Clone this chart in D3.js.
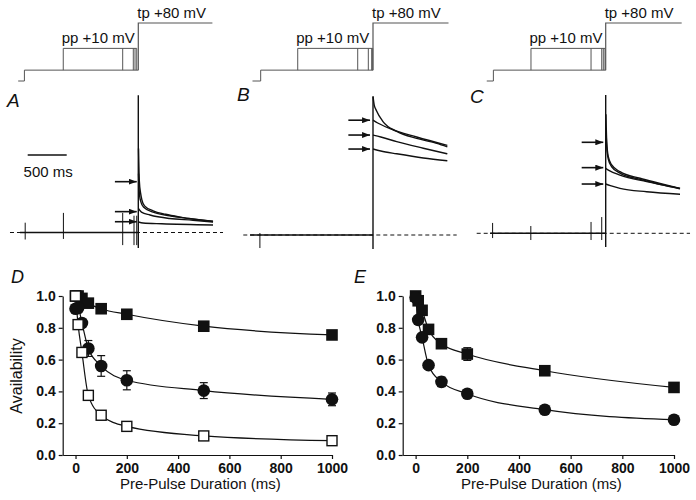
<!DOCTYPE html>
<html><head><meta charset="utf-8">
<script src="https://cdn.jsdelivr.net/npm/d3@7"></script>
<style>body{margin:0;background:#fff}svg{display:block;font-family:"Liberation Sans",Arial,Helvetica,sans-serif}</style>
</head><body><svg id="c" width="696" height="500"></svg>
<script>
// ================= DATA =================
// --- voltage protocol (mV) ---
const voltLevels = [-80, -50, 10, 80];            // holding, conditioning, pre-pulse, test pulse
const protoLabels = ["pp +10 mV", "tp +80 mV"];
const topLetters = ["A", "B", "C"];
// event times in ms relative to test-pulse onset, one value per panel A,B,C
const protoStartTimes = [-1540, -1545, -1525];
const stepTimes       = [-1460, -1440, -1440];
const ppStartTimes    = [-962, -965, -958];
const tpEndTimes      = [950, 968, 974];
const ppEndTimesA = [-200, -64, -42, -20];
const ppEndTimesB = [-196, -60, -17, -4];
const ppEndTimesC = [-188, -51, -31, -9];
const dashStartTimes  = [-1645, -1663, -1654];
const solidStartTimes = [-1517, -1577, -1483];
const dashEndTimes    = [1086, 1073, 1081];
// capacitive artefacts: [time ms, top, bottom] (normalised current)
const artefactsA = [[-1450,0.07,-0.05],[-960,0.14,-0.046],[-200,0.14,-0.09],[-55,0.12,-0.09],[-20,0.12,-0.09],[0,0.98,-0.11]];
const artefactsB = [[-1450,0.014,-0.093],[0,0.99,-0.1]];
const artefactsC = [[-1450,0.074,-0.034],[-960,0.052,-0.048],[-188,0.081,-0.048],[-51,0.116,-0.048],[0,0.988,-0.098]];
// current traces during the test pulse: [time ms, normalised current]
const tracesA = [
  [[3,0.60],[13,0.37],[30,0.28],[45,0.235],[80,0.19],[190,0.155],[350,0.13],[535,0.11],[958,0.08]],
  [[3,0.42],[15,0.27],[35,0.215],[70,0.18],[190,0.145],[400,0.12],[650,0.10],[958,0.078]],
  [[3,0.17],[40,0.145],[150,0.125],[400,0.10],[700,0.088],[958,0.075]],
  [[3,0.075],[60,0.068],[300,0.062],[958,0.054]]
];
const tracesB = [
  [[0,0.99],[15,0.93],[43,0.89],[128,0.81],[304,0.74],[560,0.69],[817,0.655],[953,0.63]],
  [[0,0.82],[60,0.80],[218,0.76],[560,0.70],[953,0.64]],
  [[0,0.714],[100,0.70],[304,0.667],[645,0.62],[953,0.58]],
  [[0,0.614],[100,0.60],[304,0.58],[645,0.55],[953,0.53]]
];
const tracesC = [
  [[3,0.85],[13,0.654],[33,0.547],[77,0.488],[183,0.44],[440,0.393],[696,0.357],[953,0.321]],
  [[3,0.75],[13,0.62],[33,0.53],[77,0.475],[183,0.43],[440,0.385],[696,0.35],[953,0.318]],
  [[0,0.464],[40,0.45],[183,0.416],[525,0.369],[953,0.321]],
  [[0,0.352],[60,0.34],[183,0.321],[525,0.297],[953,0.279]]
];
const arrowLevelsA = [0.363, 0.149, 0.077];
const arrowLevelsB = [0.82, 0.714, 0.614];
const arrowLevelsC = [0.65, 0.469, 0.352];
const arrowStartTimes = [-300, -316, -308];
const arrowEndTimes   = [-20, -38, -31];
const scaleBarMs = 500;
const scaleBarStart = -1418;
const scaleBarLabel = "500 ms";

// --- availability plots ---
const durations = [0, 10, 25, 50, 100, 200, 500, 1000];
const dFilledSquare = [1.0, 1.0, 0.985, 0.955, 0.92, 0.885, 0.81, 0.755];
const dFilledSquareErr = [0, 0, 0, 0.01, 0.01, 0.01, 0.01, 0.01];
const dCircle    = [0.92, 0.925, 0.83, 0.67, 0.56, 0.47, 0.405, 0.35];
const dCircleErr = [0.01, 0.03, 0.02, 0.05, 0.065, 0.06, 0.05, 0.04];
const dOpenSquare = [1.0, 0.82, 0.645, 0.375, 0.25, 0.18, 0.12, 0.09];
const eSquare    = [1.0, 0.97, 0.91, 0.79, 0.70, 0.635, 0.53, 0.425];
const eSquareErr = [0, 0.01, 0.02, 0.02, 0.02, 0.04, 0.015, 0.01];
const eCircle    = [0.99, 0.85, 0.74, 0.565, 0.46, 0.385, 0.285, 0.222];
const eCircleErr = [0, 0.02, 0.02, 0.02, 0.03, 0.02, 0.01, 0.01];
const xTicks = [0, 200, 400, 600, 800, 1000];
const yTicks = [0, 0.2, 0.4, 0.6, 0.8, 1.0];
const xTitle = "Pre-Pulse Duration (ms)";
const yTitle = "Availability";
const bottomLetters = ["D", "E"];

// ================= DRAW =================
const svg = d3.select("#c");
svg.append("rect").attr("width",696).attr("height",500).attr("fill","#fff");
const defs = svg.append("defs");
defs.append("marker").attr("id","ah").attr("viewBox","0 0 8 6")
  .attr("refX",8).attr("refY",3).attr("markerWidth",8).attr("markerHeight",6)
  .attr("markerUnits","userSpaceOnUse").attr("orient","auto")
  .append("path").attr("d","M0,0L8,3L0,6Z").attr("fill","#111");

const topPanels = [
  {origin:138.3, base:232.5, lx:7,   ly:107, ppEnds:ppEndTimesA, art:artefactsA, tr:tracesA, arrows:arrowLevelsA},
  {origin:373,   base:235,   lx:237, ly:101, ppEnds:ppEndTimesB, art:artefactsB, tr:tracesB, arrows:arrowLevelsB},
  {origin:605.7, base:233.3, lx:470, ly:103, ppEnds:ppEndTimesC, art:artefactsC, tr:tracesC, arrows:arrowLevelsC}
];
const vY = d3.scaleLinear().domain([voltLevels[0], voltLevels[3]]).range([81, 23]);
const protoLine = d3.line().x(d=>d[0]).y(d=>d[1]);

topPanels.forEach((p, i) => {
  const g = svg.append("g");
  const tX = d3.scaleLinear().domain([0, 1000]).range([p.origin, p.origin + 78]);
  const iY = d3.scaleLinear().domain([0, 1]).range([p.base, p.base - 140]);
  const [vHold, vStep, vPP, vTP] = voltLevels;
  const lastEnd = d3.max(p.ppEnds);
  const pc = "#555";
  // protocol
  g.append("path").attr("fill","none").attr("stroke",pc).attr("stroke-width",1)
    .attr("d", protoLine([[tX(protoStartTimes[i]),vY(vHold)],[tX(stepTimes[i]),vY(vHold)],[tX(stepTimes[i]),vY(vStep)],[tX(0),vY(vStep)]]));
  g.append("path").attr("fill","none").attr("stroke",pc).attr("stroke-width",1)
    .attr("d", protoLine([[tX(ppStartTimes[i]),vY(vStep)],[tX(ppStartTimes[i]),vY(vPP)],[tX(lastEnd),vY(vPP)]]));
  p.ppEnds.forEach(e => {
    g.append("path").attr("fill","none").attr("stroke",pc).attr("stroke-width",1)
      .attr("d", protoLine([[tX(e),vY(vStep)],[tX(e),vY(vPP)]]));
  });
  g.append("path").attr("fill","none").attr("stroke",pc).attr("stroke-width",1.2)
    .attr("d", protoLine([[tX(0),vY(vStep)],[tX(0),vY(vTP)],[tX(tpEndTimes[i]),vY(vTP)]]));
  g.append("text").attr("x", tX(0) - 1).attr("y", 17.5).attr("font-size",15).attr("fill","#111").text(protoLabels[1]);
  g.append("text").attr("x", tX(ppStartTimes[i]) - 1.5).attr("y", 43).attr("font-size",15).attr("fill","#111").text(protoLabels[0]);
  g.append("text").attr("x", p.lx).attr("y", p.ly).attr("font-size",19).attr("font-style","italic").attr("fill","#111").text(topLetters[i]);

  // baseline: dashed zero line, solid holding current
  g.append("line").attr("x1",tX(dashStartTimes[i])).attr("x2",tX(dashEndTimes[i]))
    .attr("y1",iY(0)).attr("y2",iY(0)).attr("stroke","#111").attr("stroke-width",1).attr("stroke-dasharray","4,3");
  g.append("line").attr("x1",tX(solidStartTimes[i])).attr("x2",tX(0))
    .attr("y1",iY(0)).attr("y2",iY(0)).attr("stroke","#111").attr("stroke-width",1.6);
  // artefacts
  p.art.forEach(a => {
    g.append("line").attr("x1",tX(a[0])).attr("x2",tX(a[0])).attr("y1",iY(a[1])).attr("y2",iY(a[2]))
      .attr("stroke","#111").attr("stroke-width", a[0]===0 ? 1.4 : 1);
  });
  // traces
  const tl = d3.line().x(d=>tX(d[0])).y(d=>iY(d[1])).curve(d3.curveMonotoneX);
  p.tr.forEach(tr => {
    g.append("path").attr("fill","none").attr("stroke","#111").attr("stroke-width",1.4).attr("d", tl(tr));
  });
  // arrows
  p.arrows.forEach(lv => {
    g.append("line").attr("x1",tX(arrowStartTimes[i])).attr("x2",tX(arrowEndTimes[i]))
      .attr("y1",iY(lv)).attr("y2",iY(lv)).attr("stroke","#111").attr("stroke-width",1.6)
      .attr("marker-end","url(#ah)");
  });
  // scale bar (panel A)
  if (i === 0) {
    g.append("line").attr("x1",tX(scaleBarStart)).attr("x2",tX(scaleBarStart+scaleBarMs))
      .attr("y1",155).attr("y2",155).attr("stroke","#111").attr("stroke-width",1.6);
    g.append("text").attr("x",(tX(scaleBarStart)+tX(scaleBarStart+scaleBarMs))/2 + 1).attr("y",176.5)
      .attr("text-anchor","middle").attr("font-size",15).attr("fill","#111").text(scaleBarLabel);
  }
});

// ---- bottom plots ----
function availPlot(x0, x1, letterX, series) {
  const g = svg.append("g");
  const x = d3.scaleLinear().domain([-50, 1000]).range([x0, x1]);
  const y = d3.scaleLinear().domain([0, 1]).range([455, 296]);
  const xa = g.append("g").attr("transform","translate(0,455)")
    .call(d3.axisBottom(x).tickValues(xTicks).tickSize(4).tickSizeOuter(0).tickPadding(4).tickFormat(d3.format("d")));
  const ya = g.append("g").attr("transform",`translate(${x0},0)`)
    .call(d3.axisLeft(y).tickValues(yTicks).tickSize(4).tickSizeOuter(0).tickPadding(3).tickFormat(d3.format(".1f")));
  [xa, ya].forEach(a => {
    a.selectAll("path,line").attr("stroke","#111").attr("stroke-width",1.2);
    a.selectAll("text").attr("font-size",14).attr("font-weight","bold").attr("fill","#111")
      .attr("font-family",'"Liberation Sans",Arial,sans-serif');
  });
  g.append("text").attr("x",(x0 + x1)/2 + 3).attr("y",488.5).attr("text-anchor","middle")
    .attr("font-size",15).attr("fill","#111").text(xTitle);
  g.append("text").attr("x", letterX).attr("y", 283).attr("font-size",18).attr("font-style","italic")
    .attr("fill","#111").text(bottomLetters[x0 < 300 ? 0 : 1]);
  const line = d3.line().x((d,i)=>x(durations[i])).y(d=>y(d)).curve(d3.curveMonotoneX);
  series.forEach(s => {
    g.append("path").attr("fill","none").attr("stroke","#111").attr("stroke-width",1.2).attr("d", line(s.v));
  });
  series.forEach(s => {
    if (!s.err) return;
    s.v.forEach((v, i) => {
      const e = s.err[i];
      if (!e) return;
      const cx = x(durations[i]);
      g.append("line").attr("x1",cx).attr("x2",cx).attr("y1",y(v-e)).attr("y2",y(v+e)).attr("stroke","#111").attr("stroke-width",1.2);
      [v-e, v+e].forEach(w => g.append("line").attr("x1",cx-4).attr("x2",cx+4).attr("y1",y(w)).attr("y2",y(w)).attr("stroke","#111").attr("stroke-width",1.2));
    });
  });
  series.forEach(s => {
    s.v.forEach((v, i) => {
      const cx = x(durations[i]), cy = y(v);
      if (s.shape === "circle") {
        g.append("circle").attr("cx",cx).attr("cy",cy).attr("r",6.3).attr("fill","#111");
      } else if (s.shape === "square") {
        g.append("rect").attr("x",cx-5.8).attr("y",cy-5.8).attr("width",11.6).attr("height",11.6).attr("fill","#111");
      } else {
        g.append("rect").attr("x",cx-5).attr("y",cy-5).attr("width",10).attr("height",10)
          .attr("fill","#fff").attr("stroke","#111").attr("stroke-width",1.4);
      }
    });
  });
}
availPlot(62.7, 332, 11, [
  {v:dFilledSquare, err:dFilledSquareErr, shape:"square"},
  {v:dCircle, err:dCircleErr, shape:"circle"},
  {v:dOpenSquare, err:null, shape:"open"}
]);
availPlot(402.7, 674, 354, [
  {v:eSquare, err:eSquareErr, shape:"square"},
  {v:eCircle, err:eCircleErr, shape:"circle"}
]);
svg.append("text").attr("transform","translate(22,376) rotate(-90)").attr("text-anchor","middle")
  .attr("font-size",16).attr("fill","#111").text(yTitle);
</script></body></html>
